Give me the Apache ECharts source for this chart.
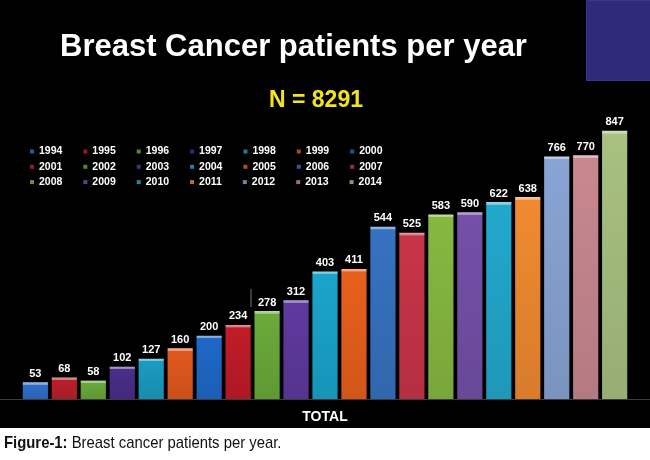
<!DOCTYPE html>
<html lang="en">
<head>
    <meta charset="UTF-8">
    <title>Breast Cancer patients per year</title>
    <script type="text/javascript" src="https://cdn.jsdelivr.net/npm/echarts@6.0.0/dist/echarts.min.js"></script>
    <style>
        html, body { margin: 0; padding: 0; background: #fff; }
        #container { width: 650px; height: 460px; }
    </style>
</head>
<body>
<div id="container"></div>
<script>
    var categories = ['TOTAL'];
    var years = ['1994', '1995', '1996', '1997', '1998', '1999', '2000',
                 '2001', '2002', '2003', '2004', '2005', '2006', '2007',
                 '2008', '2009', '2010', '2011', '2012', '2013', '2014'];
    var patients = [53, 68, 58, 102, 127, 160, 200, 234, 278, 312, 403, 411,
                    544, 525, 583, 590, 622, 638, 766, 770, 847];
    var barColors = ['#2f6ec8', '#b8202a', '#6aa83a', '#4a2e8a', '#1a9cc0', '#e0581e', '#1e68c8',
                     '#c01c28', '#6aaa3a', '#5e3a9e', '#1aa4cc', '#e8601c', '#3672c0', '#c83448',
                     '#86b840', '#7450a8', '#22a8cc', '#f08a30', '#88a4d4', '#c88890', '#a8c080'];

    var font = "'Liberation Sans', Arial, sans-serif";
    var pxPerUnit = (460 - 82.4 - 61) / 1000;

    // mix a hex colour toward white (amt > 0) or black (amt < 0)
    function mix(hex, amt) {
        var n = parseInt(hex.slice(1), 16);
        var rgb = [(n >> 16) & 255, (n >> 8) & 255, n & 255].map(function (c) {
            var t = amt > 0 ? 255 : 0;
            return Math.round(c + (t - c) * Math.abs(amt));
        });
        return 'rgb(' + rgb.join(',') + ')';
    }

    // light rim on top of each bar, ~2.5px whatever its height
    function barFill(c, v) {
        var hl = 2.5 / (v * pxPerUnit);
        return {
            type: 'linear', x: 0, y: 0, x2: 0, y2: 1,
            colorStops: [
                {offset: 0, color: mix(c, 0.55)},
                {offset: hl, color: mix(c, 0.35)},
                {offset: hl + 0.002, color: c},
                {offset: 1, color: mix(c, -0.1)}
            ]
        };
    }

    var series = years.map(function (y, i) {
        return {
            name: y,
            type: 'bar',
            data: [patients[i]],
            barGap: '15%',
            barCategoryGap: '7%',
            itemStyle: {color: barFill(barColors[i], patients[i])},
            label: {
                show: true,
                position: 'top',
                distance: 3,
                color: '#fff',
                fontSize: 11,
                fontWeight: 'bold',
                fontFamily: font
            }
        };
    });

    var legendRows = [years.slice(0, 7), years.slice(7, 14), years.slice(14, 21)];
    var legends = legendRows.map(function (row, r) {
        return {
            data: row.map(function (y) {
                return {name: y, itemStyle: {color: mix(barColors[years.indexOf(y)], -0.2)}};
            }),
            orient: 'horizontal',
            left: 30,
            top: 146 + r * 15.3,
            padding: 0,
            icon: 'rect',
            itemWidth: 4,
            itemHeight: 4,
            itemGap: 21,
            selectedMode: false,
            textStyle: {color: '#fff', fontSize: 10.5, fontWeight: 'bold', fontFamily: font}
        };
    });

    var myChart = echarts.init(document.getElementById('container'));
    var option = {
        backgroundColor: '#000',
        animation: false,
        title: [
            {
                text: 'Breast Cancer patients per year',
                left: 60, top: 32, padding: 0,
                textStyle: {color: '#fff', fontSize: 31, fontWeight: 'bold', fontFamily: font}
            },
            {
                text: 'N = 8291',
                left: 269, top: 89, padding: 0,
                textStyle: {color: '#f2e41a', fontSize: 23, fontWeight: 'bold', fontFamily: font}
            }
        ],
        legend: legends,
        grid: {left: 0, right: 0, top: 82.4, bottom: 61, outerBoundsMode: 'none'},
        xAxis: {
            type: 'category',
            data: categories,
            axisLine: {show: true, lineStyle: {color: '#3c3c3c', width: 1}},
            axisTick: {show: false},
            axisLabel: {color: '#fff', fontSize: 14, fontWeight: 'bold', fontFamily: font, margin: 11}
        },
        yAxis: {type: 'value', min: 0, max: 1000, show: false, splitLine: {show: false}},
        graphic: [
            {type: 'rect', left: 586, top: 0, shape: {width: 64, height: 80},
             style: {fill: '#2e2b7a', stroke: '#3a3690', lineWidth: 1}},
            {type: 'line', shape: {x1: 251, y1: 289, x2: 251, y2: 307},
             style: {stroke: '#777', lineWidth: 1}},
            {type: 'rect', left: 0, top: 428, shape: {width: 650, height: 32}, style: {fill: '#fff'}},
            {type: 'text', x: 4, y: 443, scaleX: 0.874,
             style: {
                 text: '{b|Figure-1:} Breast cancer patients per year.',
                 fill: '#111', fontSize: 17, fontFamily: font, verticalAlign: 'middle',
                 rich: {b: {fontWeight: 'bold', fontSize: 17, fontFamily: font, fill: '#111'}}
             }}
        ],
        series: series
    };
    myChart.setOption(option);
</script>
</body>
</html>
